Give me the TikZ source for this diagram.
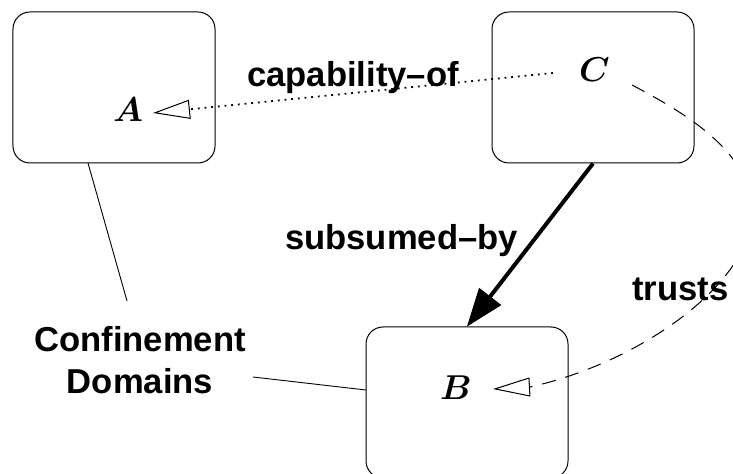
\RequirePackage{fix-cm}
\documentclass[tikz,border=0pt]{standalone}
\usepackage{amsmath}
\usepackage{fontspec}
\newfontfamily\lsans{Liberation Sans}
\usetikzlibrary{arrows.meta}

\tikzset{
  domainbox/.style={draw, line width=1bp, rounded corners=17bp,
    minimum width=202bp, minimum height=151bp, inner sep=0pt},
  domname/.style={inner sep=0pt, font=\fontsize{34.5bp}{40bp}\selectfont\boldmath},
  rellabel/.style={inner sep=0pt, font=\lsans\bfseries\fontsize{34.6bp}{42bp}\selectfont},
  openhead/.style={-{Triangle[open, fill=white, length=37bp, width=19bp, line width=1bp]}},
  capline/.style={openhead, line width=1.8bp, dash pattern=on 1.8bp off 4.9bp},
  trustline/.style={openhead, line width=1bp, dash pattern=on 14bp off 10bp},
  subline/.style={line width=4bp, -{Triangle[length=38bp, width=28bp, line width=1bp]}},
  pointer/.style={line width=0.9bp},
}

\begin{document}
\begin{tikzpicture}[x=1bp, y=-1bp]
  \useasboundingbox (0,0) rectangle (733,474);
  \clip (0,0) rectangle (733,474);

  % the three domains
  \node[domainbox] (boxA) at (114,87.5) {};
  \node[domainbox] (boxC) at (593,87.5) {};
  \node[domainbox] (boxB) at (467,402.5) {};

  \node[domname] (nameA) at (128,110) {$A$};
  \node[domname] (nameC) at (594.5,69.5) {$C$};
  \node[domname] (nameB) at (456,388) {$B$};

  % relation labels
  \node[rellabel, anchor=base west] (capLbl) at (247,87) {capability–of};
  \node[rellabel, anchor=base west] (subLbl) at (285,250) {subsumed–by};
  \node[rellabel, anchor=base west] (trLbl) at (632,301) {trusts};
  \node[rellabel, align=center] (confLbl) at (140,360.5) {Confinement\\Domains};

  % end points of the connectors
  \coordinate (capStart) at (553,73);
  \coordinate (capTip) at (153,113);
  \coordinate (trStart) at (632,85);
  \coordinate (trMid) at (752,212);
  \coordinate (trBase) at (530,387);
  \coordinate (trTip) at (493,389);
  \coordinate (confTop) at (127,301);
  \coordinate (confRight) at (253,377);
  \coordinate (boxAfoot) at (88,163);
  \coordinate (boxBside) at (366,390);

  % capability-of: C to A
  \draw[capline] (capStart) -- (capTip);

  % subsumed-by: C to B
  \draw[subline] (boxC.south) -- (boxB.north);

  % trusts: C to B, swinging out to the right
  \draw[trustline] (trStart) .. controls (685,113) and (752,152) .. (trMid)
        .. controls (752,282) and (642,362) .. (trBase) -- (trTip);

  % confinement domains pointers
  \draw[pointer] (boxAfoot) -- (confTop);
  \draw[pointer] (confRight) -- (boxBside);
\end{tikzpicture}
\end{document}
